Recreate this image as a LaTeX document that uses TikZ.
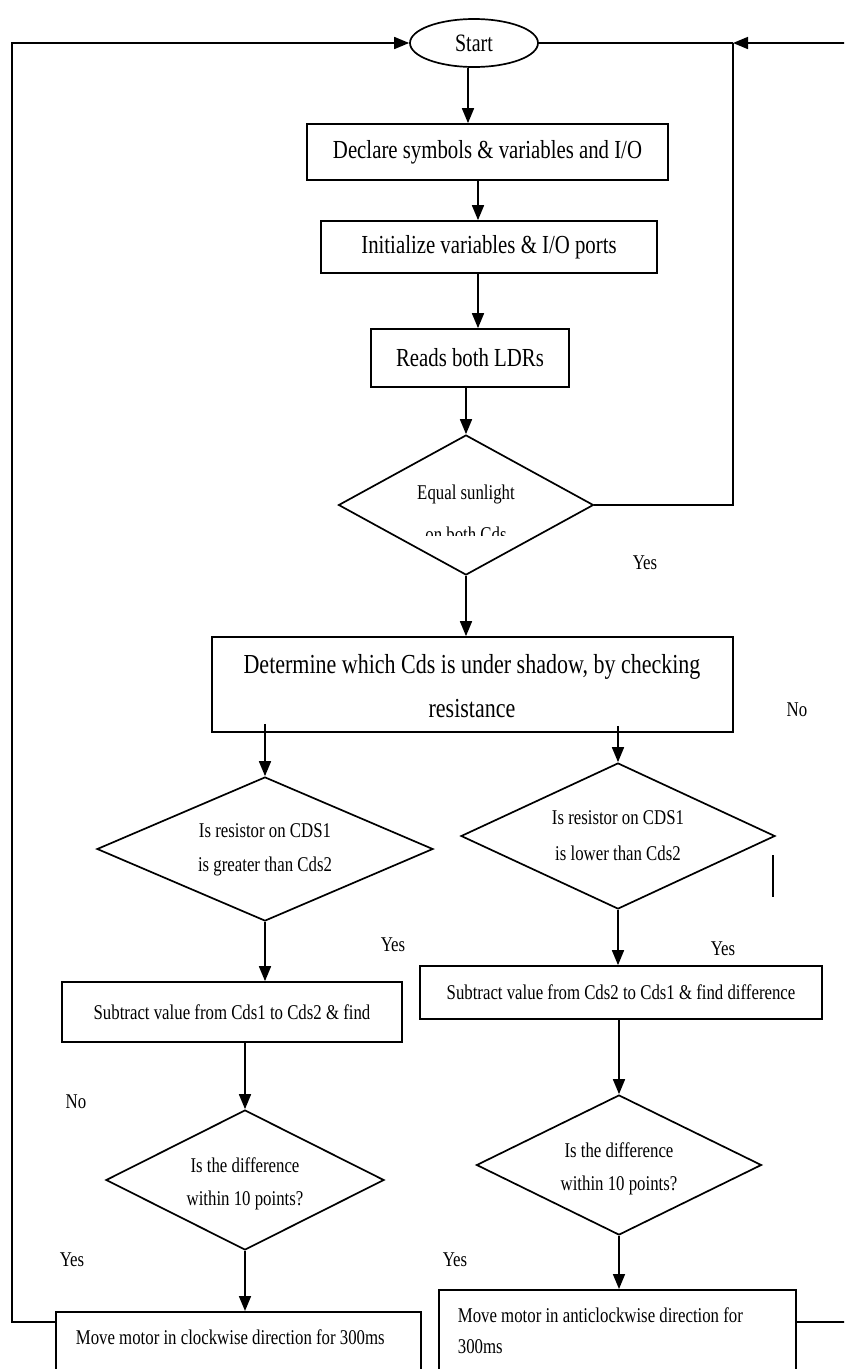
\documentclass[tikz,border=0pt]{standalone}
\usepackage{fontspec}
\setmainfont{Liberation Serif}[FakeStretch=0.8]
\usetikzlibrary{shapes.geometric,arrows.meta}
\newcommand\fszA{\fontsize{26}{30}\selectfont}
\newcommand\fszS{\fontsize{25}{29}\selectfont}
\newcommand\fszD{\fontsize{27.5}{32}\selectfont}
\newcommand\fszC{\fontsize{21}{25}\selectfont}
\begin{document}
\begin{tikzpicture}[x=1pt,y=-1pt,line width=1.7pt,
  arr/.style={-{Triangle[length=15pt,width=12pt]}},
  procbox/.style={draw,rectangle,inner sep=0pt},
  decision/.style={draw,diamond,inner sep=0pt},
  txt/.style={inner sep=0pt,font=\fszC},
  lbl/.style={inner sep=0pt,font=\fszC}]
\clip (0,0) rectangle (844,1369);
% top part
\node[draw,ellipse,inner sep=0pt,minimum width=128pt,minimum height=48pt,font=\fszS] (start) at (474,43) {Start};
\node[procbox,minimum width=361pt,minimum height=56pt,font=\fszA] (declare) at (487.5,152) {Declare symbols \& variables and I/O};
\node[procbox,minimum width=336pt,minimum height=52pt,font=\fszA] (init) at (489,247) {Initialize variables \& I/O ports};
\node[procbox,minimum width=198pt,minimum height=58pt,font=\fszA] (reads) at (470,358) {Reads both LDRs};
\node[decision,minimum width=255pt,minimum height=140pt] (equal) at (466,505) {};
\node[txt] (tequal1) at (466,494) {Equal sunlight};
\begin{scope}
\clip (330,430) rectangle (600,535.5);
\node[txt,anchor=base] (tequal2) at (466,541) {on both Cds};
\end{scope}
\node[lbl] (yes0) at (645,563) {Yes};
% determine
\node[procbox,minimum width=521pt,minimum height=95pt] (determine) at (472.5,684.5) {};
\node[inner sep=0pt,font=\fszD] (tdet1) at (472,667) {Determine which Cds is under shadow, by checking};
\node[inner sep=0pt,font=\fszD] (tdet2) at (472,709) {resistance};
\node[lbl] (no0) at (797,710) {No};
% left branch
\node[decision,minimum width=336pt,minimum height=144pt] (d1) at (265,849) {};
\node[txt] (td1a) at (265,831) {Is resistor on CDS1};
\node[txt] (td1b) at (265,866) {is greater than Cds2};
\node[lbl] (yes1) at (393,945) {Yes};
\node[procbox,minimum width=340pt,minimum height=60pt,font=\fszC] (sub1) at (232,1012) {Subtract value from Cds1 to Cds2 \& find};
\node[lbl] (no1) at (76,1102) {No};
\node[decision,minimum width=278pt,minimum height=140pt] (d3) at (245,1180) {};
\node[txt] (td3a) at (245,1165) {Is the difference};
\node[txt] (td3b) at (245,1200) {within 10 points?};
\node[lbl] (yes3) at (72,1260) {Yes};
\node[procbox,minimum width=365pt,minimum height=100pt,anchor=north west] (move1) at (55,1311) {};
\node[txt,anchor=west] (tmove1) at (75,1337) {Move motor in clockwise direction for 300ms};
% right branch
\node[decision,minimum width=314pt,minimum height=146pt] (d2) at (618,836) {};
\node[txt] (td2a) at (618,818) {Is resistor on CDS1};
\node[txt] (td2b) at (618,853) {is lower than Cds2};
\node[lbl] (yes2) at (723,949) {Yes};
\node[procbox,minimum width=402pt,minimum height=53pt,font=\fszC] (sub2) at (621,992.5) {Subtract value from Cds2 to Cds1 \& find difference};
\node[decision,minimum width=285pt,minimum height=140pt] (d4) at (619,1165) {};
\node[txt] (td4a) at (619,1150) {Is the difference};
\node[txt] (td4b) at (619,1185) {within 10 points?};
\node[lbl] (yes4) at (455,1260) {Yes};
\node[procbox,minimum width=357pt,minimum height=120pt,anchor=north west] (move2) at (438,1289) {};
\node[txt,anchor=west] (tmove2a) at (457,1315) {Move motor in anticlockwise direction for};
\node[txt,anchor=west] (tmove2b) at (457,1347) {300ms};
% stray bar
\draw[line width=2.5pt] (773,855) -- (773,897);
% main flow arrows
\draw[arr] (468,0 |- start.south) -- (468,0 |- declare.north);
\draw[arr] (478,0 |- declare.south) -- (478,0 |- init.north);
\draw[arr] (478,0 |- init.south) -- (478,0 |- reads.north);
\draw[arr] (equal.north |- reads.south) -- (equal.north);
\draw[arr] (equal.south) -- (equal.south |- determine.north);
\draw[arr] ([yshift=9pt]d1.north |- determine.south) -- (d1.north);
\draw[arr] ([yshift=7pt]d2.north |- determine.south) -- (d2.north);
\draw[arr] (d1.south) -- (d1.south |- sub1.north);
\draw[arr] (d3.north |- sub1.south) -- (d3.north);
\draw[arr] (d3.south) -- (d3.south |- move1.north);
\draw[arr] (d2.south) -- (d2.south |- sub2.north);
\draw[arr] (d4.north |- sub2.south) -- (d4.north);
\draw[arr] (d4.south) -- (d4.south |- move2.north);
% feedback loops
\coordinate (lf) at (12,1322);
\coordinate (rr) at (870,1322);
\coordinate (join) at (733,43);
\draw[arr] (move1.north west |- lf) -- (lf) -- (lf |- start.west) -- (start.west);
\draw[arr] (move2.north east |- rr) -- (rr) -- (rr |- join) -- (join);
\draw (start.east) -- (join);
\draw (equal.east) -- (equal.east -| join) -- (join);
\end{tikzpicture}
\end{document}
